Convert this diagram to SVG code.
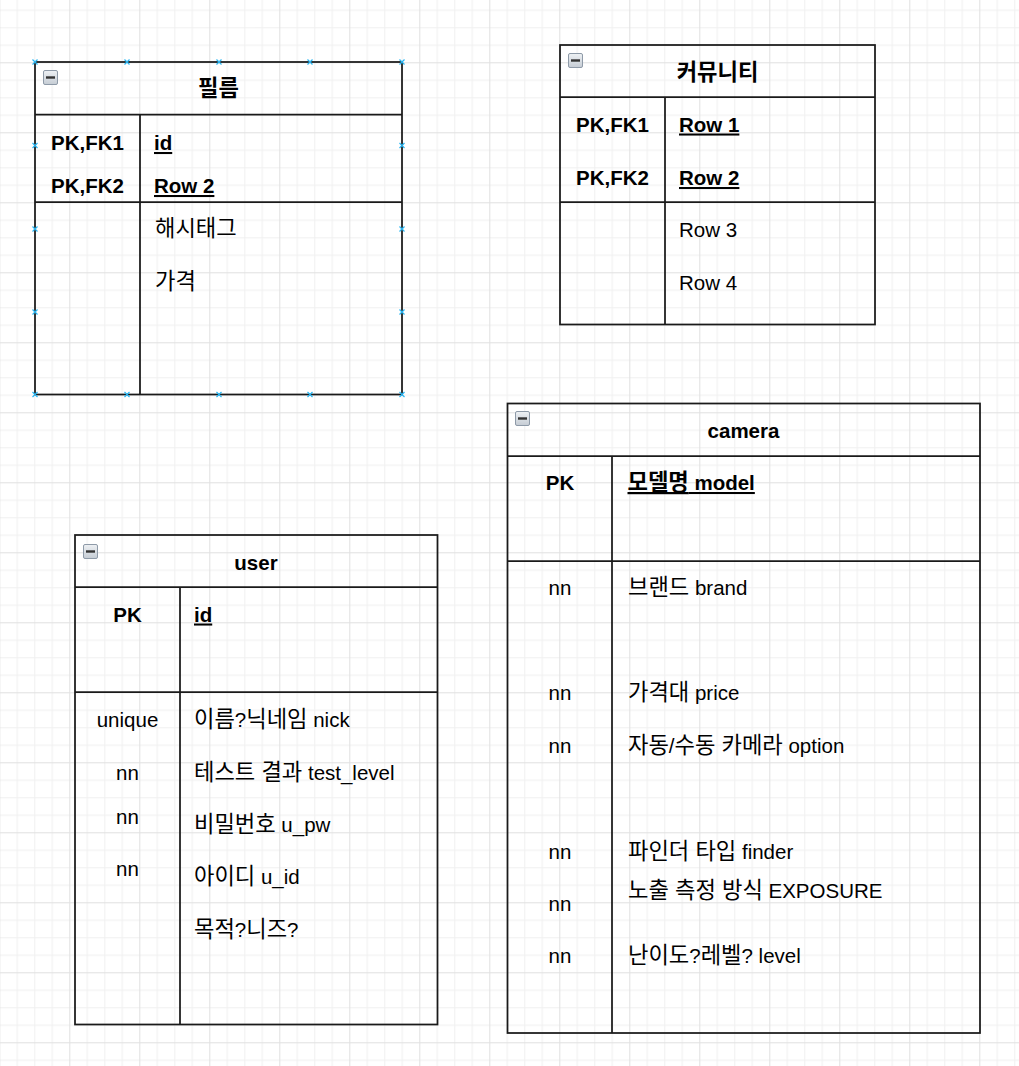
<svg xmlns="http://www.w3.org/2000/svg" width="1019" height="1066" viewBox="0 0 1019 1066">
<style>
.ln{fill:none;stroke:#1a1a1a;stroke-width:1.75}
.t{font-family:"Liberation Sans","Noto Sans CJK KR",sans-serif;font-size:20.5px;fill:#000}
.k{font-size:22.2px}
.b{font-weight:bold}
.u{text-decoration:underline}
.m{text-anchor:middle}
.h{stroke:#29b6f2;stroke-width:1.2;fill:none}
</style>
<defs>
<pattern id="grid" x="-0.7" y="-7.7" width="70" height="70" patternUnits="userSpaceOnUse">
<rect width="70" height="70" fill="#ffffff"/>
<rect x="17.5" y="0" width="1" height="70" fill="#f0f0f0"/>
<rect x="35" y="0" width="1" height="70" fill="#f0f0f0"/>
<rect x="52.5" y="0" width="1" height="70" fill="#f0f0f0"/>
<rect x="0" y="17.5" width="70" height="1" fill="#f0f0f0"/>
<rect x="0" y="35" width="70" height="1" fill="#f0f0f0"/>
<rect x="0" y="52.5" width="70" height="1" fill="#f0f0f0"/>
<rect x="0" y="0" width="1" height="70" fill="#e0e0e0"/>
<rect x="0" y="0" width="70" height="1" fill="#e0e0e0"/>
</pattern>
<linearGradient id="ig" x1="0" y1="0" x2="0" y2="1">
<stop offset="0" stop-color="#eef1f4"/>
<stop offset="1" stop-color="#c5ccd4"/>
</linearGradient>
<g id="minus">
<rect x="0.5" y="0.5" width="14" height="14" rx="1.5" fill="url(#ig)" stroke="#8e9aa8" stroke-width="1"/>
<rect x="3" y="6.3" width="9" height="2.4" fill="#333"/>
</g>
<path id="hx" d="M-2.5,-2.5 L2.5,2.5 M-2.5,2.5 L2.5,-2.5"/>
</defs>
<rect width="1019" height="1066" fill="url(#grid)"/>

<g id="connectors"></g>

<g id="film">
<rect class="ln" x="35" y="62" width="367" height="332.5"/>
<line class="ln" x1="35" y1="114.5" x2="402" y2="114.5"/>
<line class="ln" x1="140" y1="114.5" x2="140" y2="394.5"/>
<line class="ln" x1="35" y1="202" x2="402" y2="202"/>
<use href="#minus" x="43" y="70"/>
<text class="t b m k" x="218.5" y="96">필름</text>
<text class="t b m" x="87.5" y="150">PK,FK1</text>
<text class="t b m" x="87.5" y="193">PK,FK2</text>
<text class="t b u" x="154" y="150">id</text>
<text class="t b u" x="154" y="193">Row 2</text>
<text class="t k" x="155" y="236">해시태그</text>
<text class="t k" x="155" y="289">가격</text>
<g class="h">
<use href="#hx" x="35" y="62"/><use href="#hx" x="127" y="62"/><use href="#hx" x="219" y="62"/><use href="#hx" x="310" y="62"/><use href="#hx" x="402" y="62"/>
<use href="#hx" x="35" y="145.5"/><use href="#hx" x="402" y="145.5"/>
<use href="#hx" x="35" y="229"/><use href="#hx" x="402" y="229"/>
<use href="#hx" x="35" y="312"/><use href="#hx" x="402" y="312"/>
<use href="#hx" x="35" y="394.5"/><use href="#hx" x="127" y="394.5"/><use href="#hx" x="219" y="394.5"/><use href="#hx" x="310" y="394.5"/><use href="#hx" x="402" y="394.5"/>
</g>
</g>

<g id="community">
<rect class="ln" x="560" y="45" width="315" height="279.5"/>
<line class="ln" x1="560" y1="97" x2="875" y2="97"/>
<line class="ln" x1="665" y1="97" x2="665" y2="324.5"/>
<line class="ln" x1="560" y1="202" x2="875" y2="202"/>
<use href="#minus" x="568" y="53"/>
<text class="t b m k" x="717.5" y="80">커뮤니티</text>
<text class="t b m" x="612.5" y="131.5">PK,FK1</text>
<text class="t b m" x="612.5" y="185">PK,FK2</text>
<text class="t b u" x="679" y="131.5">Row 1</text>
<text class="t b u" x="679" y="185">Row 2</text>
<text class="t" x="679" y="237">Row 3</text>
<text class="t" x="679" y="290">Row 4</text>
</g>

<g id="user">
<rect class="ln" x="75" y="535" width="362.5" height="489.5"/>
<line class="ln" x1="75" y1="587" x2="437.5" y2="587"/>
<line class="ln" x1="180" y1="587" x2="180" y2="1024.5"/>
<line class="ln" x1="75" y1="692" x2="437.5" y2="692"/>
<use href="#minus" x="83" y="544"/>
<text class="t b m" x="256" y="570">user</text>
<text class="t b m" x="127.5" y="621.5">PK</text>
<text class="t b u" x="194" y="621.5">id</text>
<text class="t m" x="127.5" y="726.5">unique</text>
<text class="t" x="194" y="726.5"><tspan class="k">이름</tspan>?<tspan class="k">닉네임</tspan> nick</text>
<text class="t m" x="127.5" y="780">nn</text>
<text class="t" x="194" y="780"><tspan class="k">테스트 결과</tspan> test_level</text>
<text class="t m" x="127.5" y="824">nn</text>
<text class="t" x="194" y="831.5"><tspan class="k">비밀번호</tspan> u_pw</text>
<text class="t m" x="127.5" y="876">nn</text>
<text class="t" x="194" y="884"><tspan class="k">아이디</tspan> u_id</text>
<text class="t" x="194" y="936.5"><tspan class="k">목적</tspan>?<tspan class="k">니즈</tspan>?</text>
</g>

<g id="camera">
<rect class="ln" x="507.5" y="403.5" width="472.5" height="629.5"/>
<line class="ln" x1="507.5" y1="456" x2="980" y2="456"/>
<line class="ln" x1="612" y1="456" x2="612" y2="1033"/>
<line class="ln" x1="507.5" y1="561" x2="980" y2="561"/>
<use href="#minus" x="515" y="411"/>
<text class="t b m" x="743.5" y="438">camera</text>
<text class="t b m" x="560" y="490">PK</text>
<text class="t b u" x="627.5" y="490"><tspan class="k">모델명</tspan> model</text>
<text class="t m" x="560" y="595">nn</text>
<text class="t" x="628" y="595"><tspan class="k">브랜드</tspan> brand</text>
<text class="t m" x="560" y="700">nn</text>
<text class="t" x="628" y="700"><tspan class="k">가격대</tspan> price</text>
<text class="t m" x="560" y="753">nn</text>
<text class="t" x="628" y="753"><tspan class="k">자동</tspan>/<tspan class="k">수동 카메라</tspan> option</text>
<text class="t m" x="560" y="859">nn</text>
<text class="t" x="628" y="859"><tspan class="k">파인더 타입</tspan> finder</text>
<text class="t m" x="560" y="911">nn</text>
<text class="t" x="628" y="898"><tspan class="k">노출 측정 방식</tspan> EXPOSURE</text>
<text class="t m" x="560" y="963">nn</text>
<text class="t" x="628" y="963"><tspan class="k">난이도</tspan>?<tspan class="k">레벨</tspan>? level</text>
</g>
</svg>
